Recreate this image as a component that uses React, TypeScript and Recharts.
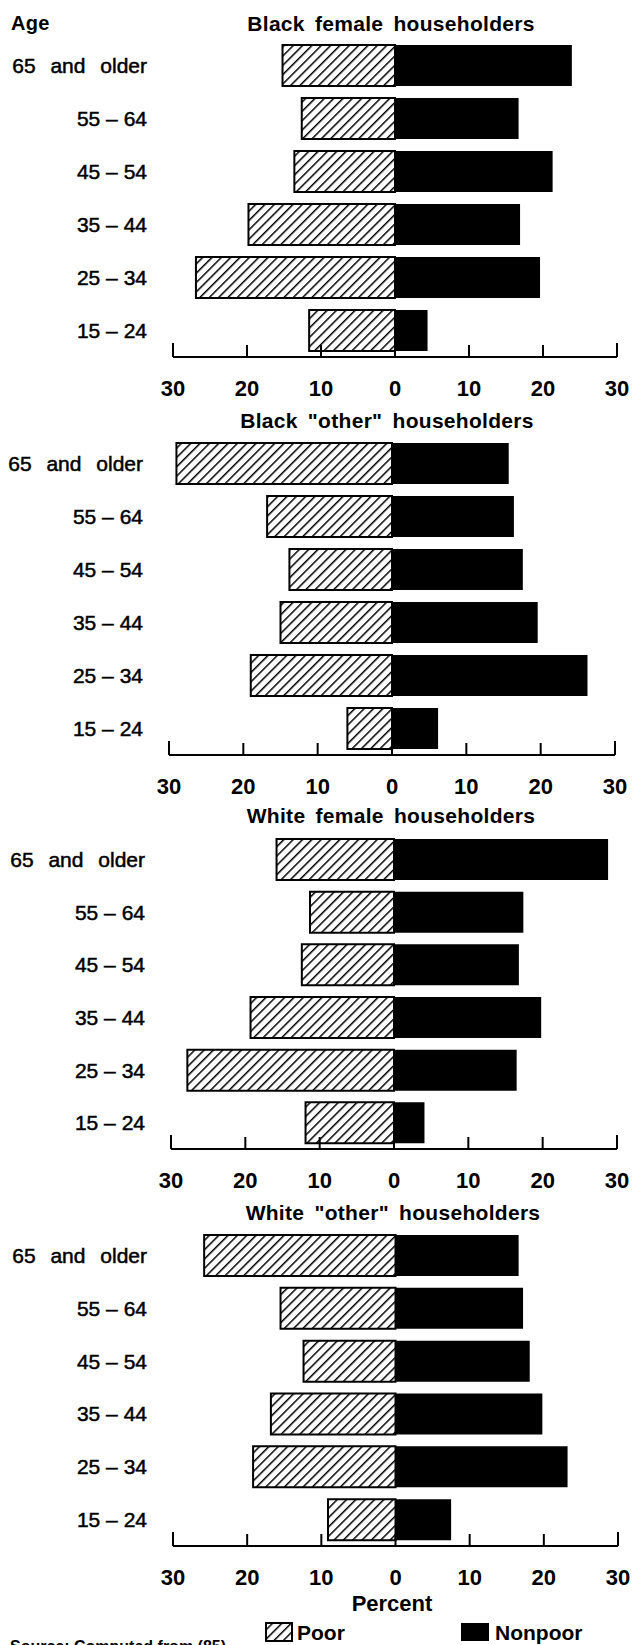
import React from 'react';
import { BarChart, Bar, XAxis, YAxis } from 'recharts';

// age groups, top to bottom
const ages = ['65 and older', '55 – 64', '45 – 54', '35 – 44', '25 – 34', '15 – 24'];
const percentTicks = [-30, -20, -10, 0, 10, 20, 30];

const blackFemalePoor = [15.2, 12.6, 13.6, 19.8, 26.9, 11.6];
const blackFemaleNonpoor = [23.9, 16.7, 21.3, 16.9, 19.6, 4.4];

const blackOtherPoor = [29.0, 16.8, 13.8, 15.0, 19.0, 6.0];
const blackOtherNonpoor = [15.7, 16.4, 17.6, 19.6, 26.3, 6.2];

const whiteFemalePoor = [15.8, 11.3, 12.4, 19.3, 27.8, 11.9];
const whiteFemaleNonpoor = [28.8, 17.4, 16.8, 19.8, 16.5, 4.1];

const whiteOtherPoor = [25.8, 15.5, 12.4, 16.8, 19.2, 9.1];
const whiteOtherNonpoor = [16.6, 17.2, 18.1, 19.8, 23.2, 7.5];

const FONT = '"Liberation Sans", Arial, Helvetica, sans-serif';

const panels = [
  { title: 'Black female householders', poor: blackFemalePoor, nonpoor: blackFemaleNonpoor,
    top: 39, axisY: 357, left: 173, right: 617, titleX: 391, titleY: 31 },
  { title: 'Black "other" householders', poor: blackOtherPoor, nonpoor: blackOtherNonpoor,
    top: 437, axisY: 755, left: 169, right: 615, titleX: 387, titleY: 428 },
  { title: 'White female householders', poor: whiteFemalePoor, nonpoor: whiteFemaleNonpoor,
    top: 833, axisY: 1149, left: 171, right: 617, titleX: 391, titleY: 823 },
  { title: 'White "other" householders', poor: whiteOtherPoor, nonpoor: whiteOtherNonpoor,
    top: 1229, axisY: 1546, left: 173, right: 618, titleX: 393, titleY: 1220 },
];

const PercentTick = (props: any) => {
  const { x, y, payload } = props;
  const end = Math.abs(payload.value) === 30;
  return (
    <g>
      <line x1={x} x2={x} y1={y} y2={y - (end ? 14 : 12)} stroke="#000" strokeWidth={2} />
      <text x={x} y={y + 39} textAnchor="middle" fontFamily={FONT} fontSize={22}
        fontWeight="bold" fill="#000">
        {Math.abs(payload.value)}
      </text>
    </g>
  );
};

const AgeTick = (props: any) => {
  const { x, y, payload } = props;
  const wide = String(payload.value).includes('and');
  return (
    <text x={x} y={y} dy="0.36em" textAnchor="end" fontFamily={FONT} fontSize={21}
      fill="#000" stroke="#000" strokeWidth={0.5} style={{ wordSpacing: wide ? 9 : 0 }}>
      {payload.value}
    </text>
  );
};

function Panel({ p }: { p: (typeof panels)[number] }) {
  const rows = ages.map((age, i) => ({ age, poor: -p.poor[i], nonpoor: p.nonpoor[i] }));
  const height = p.axisY - p.top + 45;
  return (
    <div style={{ position: 'absolute', left: 0, top: p.top }}>
      <BarChart
        width={632}
        height={height}
        data={rows}
        layout="vertical"
        stackOffset="sign"
        margin={{ top: 0, right: 632 - p.right, bottom: 0, left: 0 }}
      >
        <XAxis
          type="number"
          domain={[-30, 30]}
          ticks={percentTicks}
          interval={0}
          height={45}
          tickSize={0}
          tickMargin={0}
          tickLine={false}
          axisLine={{ stroke: '#000', strokeWidth: 2 }}
          tick={<PercentTick />}
        />
        <YAxis
          type="category"
          dataKey="age"
          width={p.left}
          tickSize={0}
          tickMargin={26}
          tickLine={false}
          axisLine={false}
          interval={0}
          tick={<AgeTick />}
        />
        <Bar dataKey="poor" stackId="a" barSize={41} fill="url(#hatch)" stroke="#000"
          strokeWidth={2} isAnimationActive={false} />
        <Bar dataKey="nonpoor" stackId="a" barSize={41} fill="#000" isAnimationActive={false} />
      </BarChart>
    </div>
  );
}

export default function App() {
  return (
    <div style={{ position: 'absolute', left: 0, top: 0, width: 632, height: 1645,
      overflow: 'hidden', background: '#fff' }}>
      <svg width={0} height={0} style={{ position: 'absolute' }}>
        <defs>
          <pattern id="hatch" patternUnits="userSpaceOnUse" width={6.6} height={6.6}
            patternTransform="rotate(45)">
            <rect width={6.6} height={6.6} fill="#fff" />
            <line x1={0} y1={0} x2={0} y2={6.6} stroke="#000" strokeWidth={3} />
          </pattern>
        </defs>
      </svg>
      {panels.map((p) => <Panel key={p.title} p={p} />)}
      <svg width={632} height={1645} style={{ position: 'absolute', left: 0, top: 0 }}>
        <text x={11} y={30} fontFamily={FONT} fontSize={20} fontWeight="bold"
          letterSpacing={0.3}>Age</text>
        {panels.map((p) => (
          <text key={p.title} x={p.titleX} y={p.titleY} textAnchor="middle" fontFamily={FONT}
            fontSize={21} fontWeight="bold" letterSpacing={0.3} style={{ wordSpacing: 4 }}>
            {p.title}
          </text>
        ))}
        <text x={392} y={1611} textAnchor="middle" fontFamily={FONT} fontSize={22}
          fontWeight="bold">Percent</text>
        <rect x={266} y={1623} width={26} height={18} fill="url(#hatch)" stroke="#000"
          strokeWidth={2} />
        <text x={297} y={1640} fontFamily={FONT} fontSize={21} fontWeight="bold">Poor</text>
        <rect x={461} y={1623} width={28} height={18} fill="#000" />
        <text x={495} y={1640} fontFamily={FONT} fontSize={21} fontWeight="bold">Nonpoor</text>
        <text x={10} y={1652} fontFamily={FONT} fontSize={16} fontWeight="bold">
          Source: Computed from (85)
        </text>
      </svg>
    </div>
  );
}
